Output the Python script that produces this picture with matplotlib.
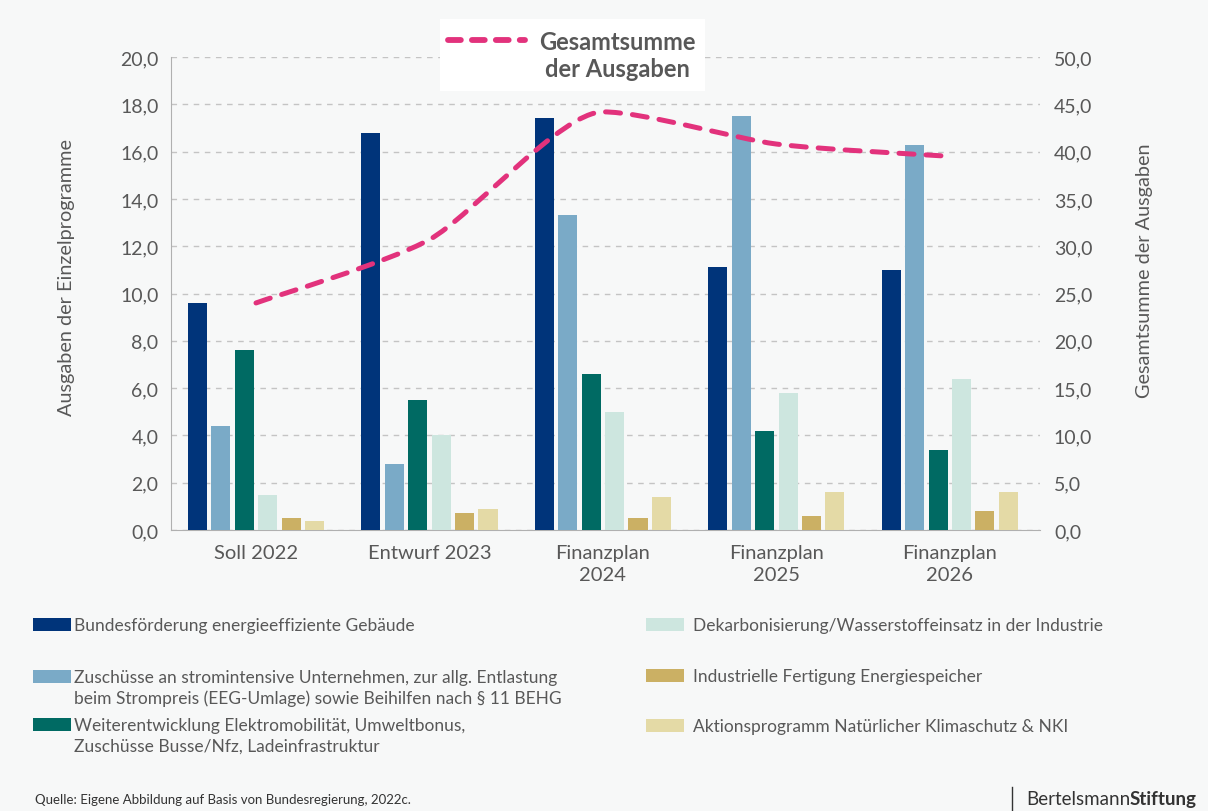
import numpy as np
import matplotlib
matplotlib.use('Agg')
import matplotlib.pyplot as plt
from matplotlib.path import Path
from matplotlib.patches import PathPatch, Rectangle
from matplotlib.lines import Line2D
from matplotlib.ticker import FuncFormatter, MultipleLocator

plt.rcParams['font.family'] = ['Lato', 'DejaVu Sans']

# Ausgaben der Einzelprogramme in Mrd. Euro
jahre = ['Soll 2022', 'Entwurf 2023', 'Finanzplan\n2024', 'Finanzplan\n2025', 'Finanzplan\n2026']
gebaeude = [9.6, 16.8, 17.4, 11.1, 11.0]
strompreis = [4.4, 2.8, 13.3, 17.5, 16.3]
emobilitaet = [7.6, 5.5, 6.6, 4.2, 3.4]
wasserstoff = [1.5, 4.0, 5.0, 5.8, 6.4]
speicher = [0.5, 0.7, 0.5, 0.6, 0.8]
klimaschutz = [0.4, 0.9, 1.4, 1.6, 1.6]

programme = [
    'Bundesförderung energieeffiziente Gebäude',
    'Zuschüsse an stromintensive Unternehmen, zur allg. Entlastung\nbeim Strompreis (EEG-Umlage) sowie Beihilfen nach § 11 BEHG',
    'Weiterentwicklung Elektromobilität, Umweltbonus,\nZuschüsse Busse/Nfz, Ladeinfrastruktur',
    'Dekarbonisierung/Wasserstoffeinsatz in der Industrie',
    'Industrielle Fertigung Energiespeicher',
    'Aktionsprogramm Natürlicher Klimaschutz & NKI',
]
farben = ['#00347a', '#7aaac7', '#006a63', '#cde6df', '#cbb064', '#e4daa6']
reihen = [gebaeude, strompreis, emobilitaet, wasserstoff, speicher, klimaschutz]
summe = np.sum(reihen, axis=0)

bg = '#f7f8f8'
grau = '#585858'
pink = '#e2327c'

W, H = 1208, 812
fig = plt.figure(figsize=(W / 100, H / 100), dpi=100, facecolor=bg)
ax = fig.add_axes([171 / W, 1 - 531 / H, (1040 - 171) / W, (531 - 58) / H])
ax.set_facecolor(bg)

x = np.arange(len(jahre))
schritt = 0.135
breite = 0.11
for i, (werte, farbe) in enumerate(zip(reihen, farben)):
    ax.bar(x + (i - 2.5) * schritt, werte, width=breite, color=farbe, zorder=3)

ax.set_xlim(-0.49, 4.52)
ax.set_ylim(0, 20)
ax.yaxis.set_major_locator(MultipleLocator(2))
fmt = FuncFormatter(lambda v, _: f'{v:.1f}'.replace('.', ','))
ax.yaxis.set_major_formatter(fmt)
ax.yaxis.grid(True, color='#c4c4c4', linestyle=(0, (4, 4)), lw=1)
ax.set_axisbelow(True)
for s in ['top', 'right']:
    ax.spines[s].set_visible(False)
for s in ['left', 'bottom']:
    ax.spines[s].set_color('#b0b0b0')
ax.set_xticks(x)
ax.set_xticklabels(jahre, fontsize=14.5, color=grau, linespacing=1.35)
ax.tick_params(axis='both', length=0, colors=grau)
ax.tick_params(axis='y', pad=9, labelsize=14)
ax.tick_params(axis='x', pad=10)
ax.set_ylabel('Ausgaben der Einzelprogramme', fontsize=14.3, color=grau)
ax.yaxis.set_label_coords(-0.11, 0.535)

# Gesamtsumme auf der rechten Achse, als geglättete Kurve
ax2 = ax.twinx()
ax2.set_ylim(0, 50)
ax2.yaxis.set_major_locator(MultipleLocator(5))
ax2.yaxis.set_major_formatter(fmt)
for s in ['top', 'right', 'left', 'bottom']:
    ax2.spines[s].set_visible(False)
ax2.tick_params(axis='y', length=0, labelsize=14, colors=grau, pad=10)
ax2.set_ylabel('Gesamtsumme der Ausgaben', fontsize=14.3, color=grau)
ax2.yaxis.set_label_coords(1.111, 0.55)

pts = np.column_stack([x, summe]).astype(float)
n = len(pts)
tang = []
for i in range(n):
    t = (pts[min(i + 1, n - 1)] - pts[max(i - 1, 0)]) * 0.12
    if 0 < i < n - 1 and (pts[i, 1] - pts[i - 1, 1]) * (pts[i + 1, 1] - pts[i, 1]) <= 0:
        t[1] = 0.0
    tang.append(t)
verts = [pts[0]]
codes = [Path.MOVETO]
for i in range(n - 1):
    verts += [pts[i] + tang[i], pts[i + 1] - tang[i + 1], pts[i + 1]]
    codes += [Path.CURVE4] * 3
kurve = PathPatch(Path(verts, codes), fill=False, edgecolor=pink, lw=3.6,
                  linestyle=(0, (3, 2.4)), capstyle='round', zorder=4)
ax2.add_patch(kurve)

# Legende der Linie oben
fig.add_artist(Rectangle((440 / W, 1 - 92 / H), 265 / W, 72 / H, transform=fig.transFigure,
                         facecolor='white', edgecolor='none', zorder=2))
fig.add_artist(Line2D([448 / W, 525 / W], [1 - 41 / H, 1 - 41 / H], transform=fig.transFigure,
                      color=pink, lw=4.2, linestyle=(0, (2.2, 1.9)), solid_capstyle='round',
                      dash_capstyle='round', zorder=3))
fig.text(617 / W, 1 - 56 / H, 'Gesamtsumme\nder Ausgaben', ha='center', va='center',
         fontsize=17, fontweight='bold', color=grau, linespacing=1.25, zorder=3)

# Legende der Balken unten
spalten = [(33, 74), (33, 74), (33, 74), (646, 693), (646, 693), (646, 693)]
zeilen = [625, 677, 725, 625, 676, 726]
for (px, tx), py, farbe, text in zip(spalten, zeilen, farben, programme):
    fig.add_artist(Rectangle((px / W, 1 - (py + 6.5) / H), 38 / W, 13 / H,
                             transform=fig.transFigure, facecolor=farbe, edgecolor='none'))
    for j, zeile in enumerate(text.split('\n')):
        fig.text(tx / W, 1 - (py + 20 * j) / H, zeile, ha='left', va='center_baseline',
                 fontsize=12.5, color=grau)

# Fußzeile
fig.text(35 / W, 1 - 800 / H, 'Quelle: Eigene Abbildung auf Basis von Bundesregierung, 2022c.',
         ha='left', va='center', fontsize=9.5, color='#333333')
stiftung = fig.text(1197 / W, 1 - 800 / H, 'Stiftung', ha='right', va='center',
                    fontsize=13.5, fontweight='bold', color='#333333')
ax.annotate('Bertelsmann', xy=(0, 0.5), xycoords=stiftung, ha='right', va='center',
            fontsize=13.5, color='#333333', annotation_clip=False)
fig.add_artist(Line2D([1012 / W, 1012 / W], [1 - 788 / H, 1 - 811 / H],
                      transform=fig.transFigure, color='#333333', lw=1))

fig.savefig('out.png', dpi=100, facecolor=bg)
